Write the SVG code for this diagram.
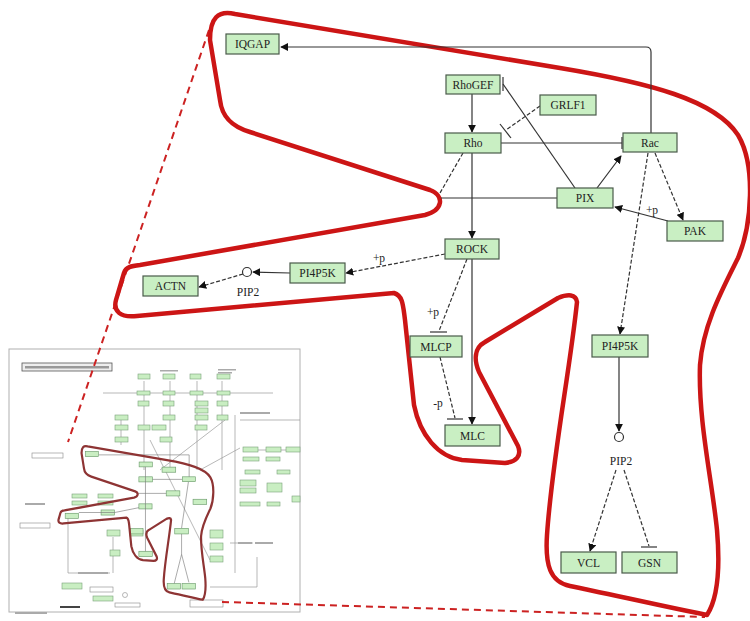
<svg xmlns="http://www.w3.org/2000/svg" width="750" height="621" viewBox="0 0 750 621">
<defs>
<style>
.nd rect{fill:#c9efc3;stroke:#4a5a4a;stroke-width:1.2}
.nd text,.lb{font-family:"Liberation Serif",serif;font-size:11.5px;fill:#222;text-anchor:middle}
.e{fill:none;stroke:#333;stroke-width:1.2}
.d{stroke-dasharray:4,2}
.a{marker-end:url(#arr)}
.loop{fill:none;stroke:#cc1515;stroke-width:4.5;stroke-linejoin:round}
.mb{fill:#c9eec2;stroke:#7aa07a;stroke-width:0.6}
.ml{fill:none;stroke:#999;stroke-width:0.7}
.mt{fill:#aaa}
</style>
<marker id="arr" viewBox="0 0 10 10" refX="9" refY="5" markerWidth="8" markerHeight="8" markerUnits="userSpaceOnUse" orient="auto">
<path d="M0,0 L10,5 L0,10 Z" fill="#111"/>
</marker>
</defs>
<rect width="750" height="621" fill="#fff"/>

<!-- inset overview map -->
<g id="inset">
<rect x="9" y="349" width="291" height="263" fill="#fff" stroke="#b0b0b0" stroke-width="1"/>
<rect x="22" y="363" width="90" height="8" fill="#eee" stroke="#555" stroke-width="0.8"/>
<rect x="25" y="366" width="84" height="2.5" fill="#999"/>
<path class="ml" d="M103,393 H273 M235,415 V573 M68,513 V573 H110 M113,537 V573 M210,587 H257 V557 M230,543 H253 M144,381 V470 M170,381 V470 M197,381 V470 M222,381 V470 M121,420 V445 M225,420 L160,470 M240,448 L200,470 M150,440 L210,560 M255,450 H300 M240,420 H300"/>
<g>
<rect class="mb" x="138" y="374" width="12" height="5"/><rect class="mb" x="163" y="374" width="12" height="5"/><rect class="mb" x="190" y="374" width="11" height="5"/><rect class="mb" x="217" y="374" width="13" height="5"/>
<rect class="mb" x="137" y="391" width="13" height="4"/><rect class="mb" x="163" y="391" width="12" height="4"/><rect class="mb" x="190" y="391" width="13" height="4"/><rect class="mb" x="217" y="391" width="13" height="4"/>
<rect class="mb" x="138" y="401" width="11" height="5"/><rect class="mb" x="163" y="401" width="11" height="5"/><rect class="mb" x="195" y="401" width="13" height="5"/><rect class="mb" x="217" y="401" width="11" height="5"/>
<rect class="mb" x="195" y="408" width="13" height="5"/>
<rect class="mb" x="115" y="415" width="13" height="5"/><rect class="mb" x="163" y="415" width="12" height="5"/><rect class="mb" x="195" y="415" width="13" height="5"/><rect class="mb" x="217" y="415" width="11" height="5"/>
<rect class="mb" x="115" y="425" width="13" height="5"/><rect class="mb" x="138" y="425" width="12" height="5"/><rect class="mb" x="152" y="425" width="14" height="5"/><rect class="mb" x="195" y="425" width="12" height="5"/>
<rect class="mb" x="115" y="437" width="13" height="5"/><rect class="mb" x="160" y="437" width="12" height="5"/>
<rect class="mb" x="243" y="447" width="15" height="5"/><rect class="mb" x="266" y="447" width="15" height="5"/><rect class="mb" x="286" y="447" width="14" height="5"/>
<rect class="mb" x="243" y="457" width="16" height="4"/><rect class="mb" x="266" y="457" width="14" height="4"/>
<rect class="mb" x="245" y="470" width="15" height="4"/><rect class="mb" x="277" y="470" width="13" height="4"/>
<rect class="mb" x="240" y="480" width="16" height="6"/><rect class="mb" x="240" y="488" width="16" height="5"/><rect class="mb" x="267" y="483" width="15" height="9"/><rect class="mb" x="292" y="496" width="8" height="6"/>
<rect class="mb" x="240" y="502" width="20" height="4"/><rect class="mb" x="267" y="502" width="13" height="4"/>
<rect class="mb" x="72" y="494" width="15" height="4"/><rect class="mb" x="98" y="494" width="15" height="4"/><rect class="mb" x="72" y="501" width="15" height="4"/><rect class="mb" x="98" y="501" width="15" height="4"/>
<rect class="mb" x="107" y="530" width="13" height="6"/><rect class="mb" x="130" y="530" width="13" height="6"/><rect class="mb" x="110" y="550" width="10" height="6"/>
<rect class="mb" x="210" y="530" width="13" height="8"/><rect class="mb" x="210" y="543" width="13" height="7"/><rect class="mb" x="210" y="556" width="13" height="6"/>
<rect class="mb" x="62" y="583" width="20" height="6"/><rect class="mb" x="93" y="596" width="20" height="5"/>
</g>
<circle cx="125" cy="595" r="2.5" fill="#fff" stroke="#888" stroke-width="0.6"/>
<g fill="#fff" stroke="#888" stroke-width="0.6">
<rect x="32" y="453" width="31" height="5"/><rect x="20" y="523" width="30" height="5"/><rect x="190" y="600" width="33" height="7"/><rect x="115" y="603" width="25" height="4"/><rect x="90" y="587" width="23" height="5"/>
</g>
<g class="mt">
<rect x="160" y="370" width="18" height="1.5"/><rect x="218" y="369" width="18" height="1.5"/><rect x="218" y="372" width="14" height="1.5"/>
<rect x="240" y="412" width="30" height="2"/><rect x="25" y="503" width="20" height="2"/><rect x="78" y="572" width="30" height="2"/>
<rect x="238" y="542" width="14" height="2"/><rect x="255" y="542" width="18" height="2"/><rect x="60" y="606" width="20" height="2" fill="#444"/><rect x="15" y="612" width="32" height="2"/><rect x="300" y="428" width="0" height="0"/>
</g>
<g transform="translate(30.3,442.9) scale(0.244,0.255)">
<g fill="#c9eec2" stroke="#6a9a6a" stroke-width="2.5">
<rect x="226" y="34" width="53" height="20"/><rect x="446" y="75" width="54" height="19"/><rect x="540" y="95" width="56" height="20"/><rect x="445" y="133" width="56" height="20"/><rect x="623" y="133" width="54" height="19"/><rect x="557" y="188" width="56" height="20"/><rect x="667" y="221" width="56" height="20"/><rect x="445" y="239" width="54" height="20"/><rect x="290" y="263" width="55" height="20"/><rect x="143" y="276" width="55" height="20"/><rect x="410" y="336" width="52" height="21"/><rect x="445" y="425" width="55" height="21"/><rect x="592" y="335" width="56" height="22"/><rect x="561" y="552" width="55" height="21"/><rect x="622" y="552" width="55" height="21"/>
</g>
<path fill="none" stroke="#777" stroke-width="2.5" d="M651,133 V47 H281 M472,94 V239 V425 M501,143 H622 M557,198 H440 M445,254 L346,273 H199 M620,357 V437 L590,551 M620,437 L650,547 M648,153 L620,334"/>
<path fill="none" stroke="#8e3434" stroke-width="9" stroke-linejoin="round" d="M210,40 C210,18 218,10 235,14 L560,68 C650,83 715,100 738,135 C756,165 752,225 738,258 C722,290 703,325 700,365 C698,420 712,480 717,530 C720,565 718,598 707,615 C680,610 600,592 570,586 C550,582 545,565 547,535 C552,460 570,370 577,302 C576,294 568,294 558,298 L485,342 C474,348 474,360 479,372 L518,446 C522,456 516,462 505,463 L462,460 C438,457 420,435 414,405 L405,320 C403,305 403,296 394,293 L137,316 C120,318 113,311 116,300 L124,273 C126,267 131,266 140,265 L425,215 C443,210 445,196 430,190 L250,132 C233,127 222,118 220,100 Z"/>
</g>
</g>

<!-- zoom guide lines -->
<g id="guides" fill="none" stroke="#cc2222" stroke-width="2" stroke-dasharray="7,5">
<path d="M209,30 L68,442"/>
<path d="M222,602 L705,617"/>
</g>

<!-- highlighted region -->
<path id="region" class="loop" d="M210,40 C210,18 218,10 235,14 L560,68 C650,83 715,100 738,135 C756,165 752,225 738,258 C722,290 703,325 700,365 C698,420 712,480 717,530 C720,565 718,598 707,615 C680,610 600,592 570,586 C550,582 545,565 547,535 C552,460 570,370 577,302 C576,294 568,294 558,298 L485,342 C474,348 474,360 479,372 L518,446 C522,456 516,462 505,463 L462,460 C438,457 420,435 414,405 L405,320 C403,305 403,296 394,293 L137,316 C120,318 113,311 116,300 L124,273 C126,267 131,266 140,265 L425,215 C443,210 445,196 430,190 L250,132 C233,127 222,118 220,100 Z"/>

<!-- connectors -->
<g id="edges">
<path class="e a" d="M651,133 V52 Q651,47 646,47 H281"/>
<path class="e a" d="M472,94 V132"/>
<path class="e d" d="M540,106 L506,130"/>
<path class="e" d="M500,124 L511,138"/>
<path class="e" d="M501,143 H622"/>
<path class="e" d="M622,137 V149"/>
<path class="e" d="M503,84 L575,188"/>
<path class="e" d="M503,77 V91"/>
<path class="e a" d="M597,188 L621,156"/>
<path class="e a" d="M668,221 L615,207"/>
<path class="e d a" d="M655,153 L683,220"/>
<path class="e d a" d="M648,153 L620,334"/>
<path class="e" d="M557,198 H441"/>
<path class="e a" d="M472,153 V238"/>
<path class="e d" d="M463,153 L440,193"/>
<path class="e d a" d="M445,254 L346,273"/>
<path class="e a" d="M290,273 L253,272"/>
<path class="e d a" d="M243,274 L199,287"/>
<path class="e d" d="M467,259 L439,331"/>
<path class="e" d="M430,332 H447"/>
<path class="e a" d="M472,259 V424"/>
<path class="e d" d="M440,357 L455,418"/>
<path class="e" d="M447,419 H463"/>
<path class="e a" d="M619,357 V431"/>
<path class="e d a" d="M616,470 L590,551"/>
<path class="e d" d="M624,470 L649,546"/>
<path class="e" d="M641,547 H657"/>
<circle cx="247" cy="272" r="4.5" fill="#fff" stroke="#333" stroke-width="1.2"/>
<circle cx="619" cy="437" r="4.5" fill="#fff" stroke="#333" stroke-width="1.2"/>
<text class="lb" x="248" y="296">PIP2</text>
<text class="lb" x="621" y="465">PIP2</text>
<text class="lb" x="652" y="214">+p</text>
<text class="lb" x="379" y="262">+p</text>
<text class="lb" x="433" y="316">+p</text>
<text class="lb" x="438" y="407">-p</text>
</g>

<!-- nodes -->
<g id="IQGAP" class="nd"><rect x="226" y="34" width="53" height="20"/><text x="252.5" y="48">IQGAP</text></g>
<g id="RhoGEF" class="nd"><rect x="446" y="75" width="54" height="19"/><text x="473" y="88.5">RhoGEF</text></g>
<g id="GRLF1" class="nd"><rect x="540" y="95" width="56" height="20"/><text x="568" y="109">GRLF1</text></g>
<g id="Rho" class="nd"><rect x="445" y="133" width="56" height="20"/><text x="473" y="147">Rho</text></g>
<g id="Rac" class="nd"><rect x="623" y="133" width="54" height="19"/><text x="650" y="146.5">Rac</text></g>
<g id="PIX" class="nd"><rect x="557" y="188" width="56" height="20"/><text x="585" y="202">PIX</text></g>
<g id="PAK" class="nd"><rect x="667" y="221" width="56" height="20"/><text x="695" y="235">PAK</text></g>
<g id="ROCK" class="nd"><rect x="445" y="239" width="54" height="20"/><text x="472" y="253">ROCK</text></g>
<g id="PI4P5K_left" class="nd"><rect x="290" y="263" width="55" height="20"/><text x="317.5" y="277">PI4P5K</text></g>
<g id="ACTN" class="nd"><rect x="143" y="276" width="55" height="20"/><text x="170.5" y="290">ACTN</text></g>
<g id="MLCP" class="nd"><rect x="410" y="336" width="52" height="21"/><text x="436" y="350.5">MLCP</text></g>
<g id="MLC" class="nd"><rect x="445" y="425" width="55" height="21"/><text x="472.5" y="439.5">MLC</text></g>
<g id="PI4P5K_right" class="nd"><rect x="592" y="335" width="56" height="22"/><text x="620" y="350">PI4P5K</text></g>
<g id="VCL" class="nd"><rect x="561" y="552" width="55" height="21"/><text x="588.5" y="566.5">VCL</text></g>
<g id="GSN" class="nd"><rect x="622" y="552" width="55" height="21"/><text x="649.5" y="566.5">GSN</text></g>
</svg>
